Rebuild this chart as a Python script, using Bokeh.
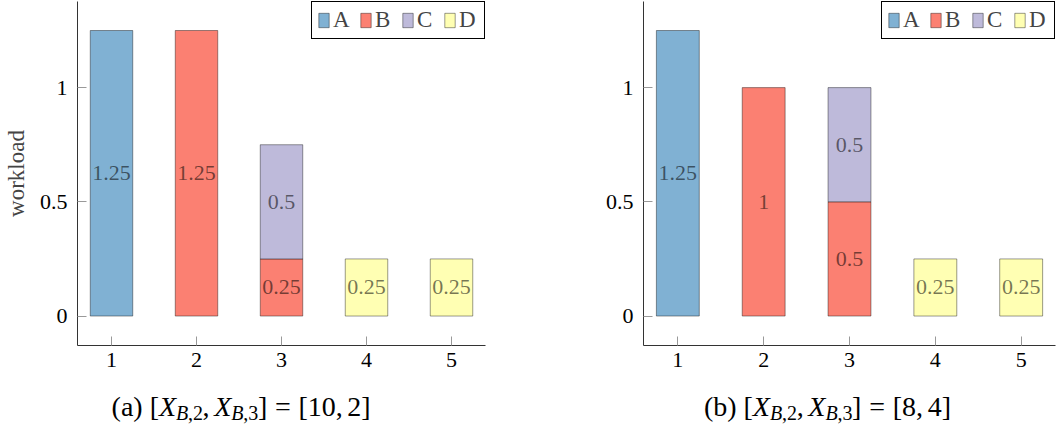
from bokeh.plotting import figure
from bokeh.models import Legend, LegendItem, FixedTicker, Range1d, ColumnDataSource
from bokeh.layouts import row, column
from bokeh.embed import file_html
from bokeh.resources import INLINE
from bokeh.core.properties import value

# ---------------- data ----------------
positions = [1, 2, 3, 4, 5]
series_names = ["A", "B", "C", "D"]
colors = ["#80b1d3", "#fb8072", "#bebada", "#ffffb3"]

# panel (a): [X_B,2, X_B,3] = [10, 2]
a_A = [1.25, 0, 0, 0, 0]
a_B = [0, 1.25, 0.25, 0, 0]
a_C = [0, 0, 0.5, 0, 0]
a_D = [0, 0, 0, 0.25, 0.25]
a_xb = ["10", "2"]

# panel (b): [X_B,2, X_B,3] = [8, 4]
b_A = [1.25, 0, 0, 0, 0]
b_B = [0, 1, 0.5, 0, 0]
b_C = [0, 0, 0.5, 0, 0]
b_D = [0, 0, 0, 0.25, 0.25]
b_xb = ["8", "4"]

y_ticks = [0, 0.5, 1]
y_tick_labels = {0: "0", 0.5: "0.5", 1: "1"}
x_ticks = [1, 2, 3, 4, 5]

SERIF = "Liberation Serif"

# Times metrics (per 1000 em)
REG = {"(": 333, ")": 333, "a": 444, "b": 500, " ": 250, "[": 333, "]": 333,
       ",": 250, "=": 564}
for d in "0123456789":
    REG[d] = 500
ITA = {"X": 611, "B": 611}


def seg_width(text, italic, size):
    tbl = ITA if italic else REG
    return sum(tbl.get(c, 500) for c in text) / 1000.0 * size


MAIN_H = 378
CAP_H = 46


def make_panel(series, letter, xb, show_ylabel, width, border_left, frame_w, caption_center):
    border_right = width - border_left - frame_w
    p = figure(width=width, height=MAIN_H,
               x_range=Range1d(0.6, 5.4), y_range=Range1d(-0.129, 1.377),
               output_backend="svg", toolbar_location=None,
               min_border_left=border_left, min_border_right=border_right,
               min_border_top=1, min_border_bottom=MAIN_H - 1 - 344)
    p.outline_line_color = None
    p.grid.visible = False
    p.background_fill_color = "white"

    renderers = []
    bottoms = [0.0] * len(positions)
    for name, col, vals in zip(series_names, colors, series):
        xs, bot, top, mid, txt = [], [], [], [], []
        for i, v in enumerate(vals):
            if v > 0:
                xs.append(positions[i])
                bot.append(bottoms[i])
                top.append(bottoms[i] + v)
                mid.append(bottoms[i] + v / 2.0)
                txt.append(f"{v:g}")
                bottoms[i] += v
        src = ColumnDataSource(dict(x=xs, bottom=bot, top=top, mid=mid, txt=txt))
        r = p.vbar(x="x", bottom="bottom", top="top", width=0.5, source=src,
                   fill_color=col, line_color="black", line_alpha=0.4, line_width=1)
        p.text(x="x", y="mid", text="txt", source=src, text_align="center",
               text_baseline="middle", text_font=value(SERIF), text_font_size=value("22px"),
               text_color="black", text_alpha=0.55)
        renderers.append(r)

    legend = Legend(items=[LegendItem(label=n, renderers=[r]) for n, r in zip(series_names, renderers)],
                    orientation="horizontal", location="top_right",
                    border_line_color="black", border_line_width=1, border_line_alpha=1,
                    label_text_font=SERIF, label_text_font_size="23px",
                    padding=5, spacing=6, label_standoff=3, margin=0,
                    glyph_width=13, glyph_height=18, background_fill_alpha=1)
    p.add_layout(legend)

    for ax in (p.xaxis[0], p.yaxis[0]):
        ax.axis_line_color = "#333333"
        ax.axis_line_width = 1
        ax.major_tick_in = 9
        ax.major_tick_out = 0
        ax.major_tick_line_color = "#999999"
        ax.minor_tick_line_color = None
        ax.major_label_text_font = SERIF
        ax.major_label_text_font_size = "22px"
        ax.major_label_text_color = "black"
    p.xaxis.ticker = FixedTicker(ticks=x_ticks)
    p.yaxis.ticker = FixedTicker(ticks=y_ticks)
    p.yaxis.major_label_overrides = y_tick_labels
    p.xaxis.major_label_standoff = 7
    p.yaxis.major_label_standoff = 10
    if show_ylabel:
        p.yaxis.axis_label = "workload"
        p.yaxis.axis_label_text_font = SERIF
        p.yaxis.axis_label_text_font_style = "normal"
        p.yaxis.axis_label_text_font_size = "23px"
        p.yaxis.axis_label_standoff = 8

    # caption strip: same horizontal borders as the plot above, data units = pixels from frame left
    c = figure(width=width, height=CAP_H, x_range=Range1d(0, frame_w), y_range=Range1d(0, CAP_H),
               output_backend="svg", toolbar_location=None,
               x_axis_type=None, y_axis_type=None,
               min_border_left=border_left, min_border_right=border_right,
               min_border_top=0, min_border_bottom=0)
    c.outline_line_color = None
    c.grid.visible = False
    size = 28
    sub = 0.7
    shift = 0.22 * size
    segs = [
        (f"({letter}) [", False, 1.0, 0.0, 0.0),
        ("X", True, 1.0, 0.0, 0.0),
        ("B", True, sub, -shift, 0.0),
        (",2", False, sub, -shift, 0.0),
        (",", False, 1.0, 0.0, 0.167),
        ("X", True, 1.0, 0.0, 0.0),
        ("B", True, sub, -shift, 0.0),
        (",3", False, sub, -shift, 0.0),
        ("]", False, 1.0, 0.0, 0.278),
        ("=", False, 1.0, 0.0, 0.278),
        (f"[{xb[0]},", False, 1.0, 0.0, 0.167),
        (f"{xb[1]}]", False, 1.0, 0.0, 0.0),
    ]
    total = sum(seg_width(t, it, size * s) + gap * size for t, it, s, _, gap in segs)
    x0 = (caption_center - border_left) - total / 2.0
    base_y = 18.0
    for t, it, s, dy, gap in segs:
        c.text(x=[x0], y=[base_y + dy], text=[t], text_font=value(SERIF),
               text_font_size=value(f"{round(size * s)}px"),
               text_font_style=value("italic" if it else "normal"),
               text_color="black", text_align="left", text_baseline="alphabetic")
        x0 += seg_width(t, it, size * s) + gap * size
    return column(p, c, spacing=0)


pa = make_panel([a_A, a_B, a_C, a_D], "a", a_xb, True, 530, 76, 409, 240)
pb = make_panel([b_A, b_B, b_C, b_D], "b", b_xb, False, 530, 113, 412, 827 - 530)

layout = row(pa, pb, spacing=0)
open("out.html", "w").write(file_html(layout, INLINE))
